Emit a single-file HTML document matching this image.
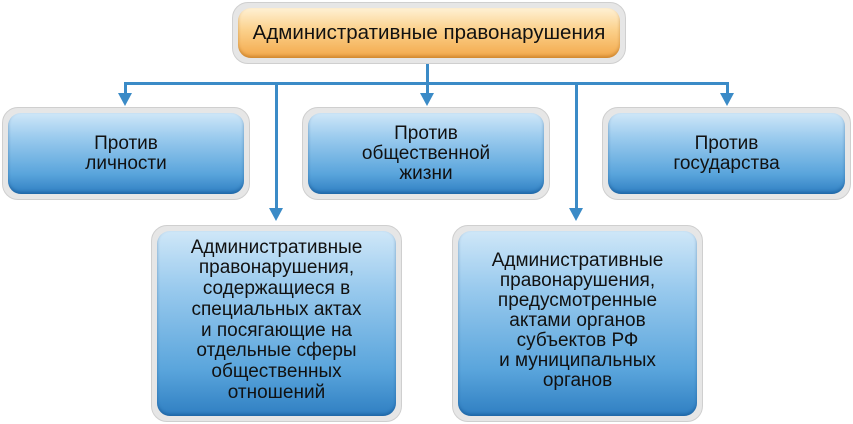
<!DOCTYPE html>
<html><head><meta charset="utf-8"><style>
body{margin:0;width:853px;height:424px;background:#fff;position:relative;overflow:hidden;font-family:"Liberation Sans",sans-serif;color:#111}
.o{position:absolute;background:#e6e6e6;border:1px solid #cfcfcf;border-radius:16px;box-sizing:border-box}
.i{position:absolute;left:5px;top:5px;right:5px;bottom:5px;border-radius:13px;background:linear-gradient(#cfe7f8 0%,#9bcbee 30%,#5aa5dc 75%,#2f7fc2 100%);box-shadow:inset 0 -2px 3px rgba(0,60,120,.4);display:flex;align-items:center;justify-content:center;text-align:center;font-size:19px;line-height:20px}
.or{background:linear-gradient(#fff1d4 0%,#fbd08a 45%,#f3a84a 100%);box-shadow:inset 0 -2px 3px rgba(150,80,0,.4)}
.l{position:absolute;background:#3b8bc7}
.a{position:absolute;width:0;height:0;border-left:7px solid transparent;border-right:7px solid transparent;border-top:13px solid #3b8bc7}
</style></head><body>
<div class="o" style="left:232px;top:2px;width:394px;height:62px"><div class="i or" style="font-size:20.5px">Административные правонарушения</div></div>
<div class="l" style="left:426px;top:64px;width:3px;height:30px"></div>
<div class="l" style="left:124px;top:82px;width:605px;height:3px"></div>
<div class="l" style="left:124px;top:82px;width:3px;height:12px"></div><div class="a" style="left:118px;top:93px"></div>
<div class="a" style="left:420px;top:93px"></div>
<div class="l" style="left:726px;top:82px;width:3px;height:12px"></div><div class="a" style="left:720px;top:93px"></div>
<div class="l" style="left:275px;top:82px;width:3px;height:127px"></div><div class="a" style="left:269px;top:208px"></div>
<div class="l" style="left:575px;top:82px;width:3px;height:127px"></div><div class="a" style="left:569px;top:208px"></div>
<div class="o" style="left:2px;top:107px;width:248px;height:93px"><div class="i">Против<br>личности</div></div>
<div class="o" style="left:302px;top:107px;width:248px;height:93px"><div class="i">Против<br>общественной<br>жизни</div></div>
<div class="o" style="left:602px;top:107px;width:249px;height:93px"><div class="i">Против<br>государства</div></div>
<div class="o" style="left:151px;top:225px;width:251px;height:197px"><div class="i" style="line-height:20.7px;padding-bottom:6px;box-sizing:border-box">Административные<br>правонарушения,<br>содержащиеся в<br>специальных актах<br>и посягающие на<br>отдельные сферы<br>общественных<br>отношений</div></div>
<div class="o" style="left:452px;top:225px;width:251px;height:197px"><div class="i" style="padding-bottom:6px;box-sizing:border-box">Административные<br>правонарушения,<br>предусмотренные<br>актами органов<br>субъектов РФ<br>и муниципальных<br>органов</div></div>
</body></html>
